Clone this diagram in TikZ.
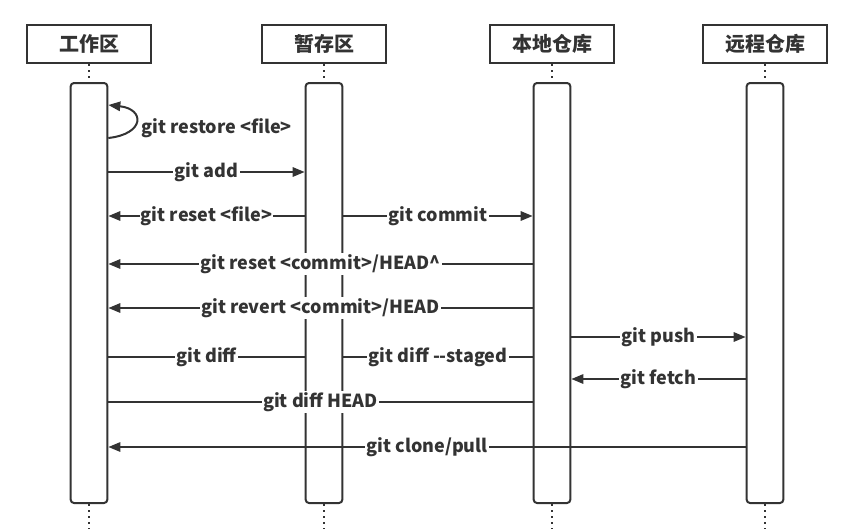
\documentclass[tikz,border=0pt]{standalone}
\usepackage{fontspec}
\setmainfont{Noto Sans CJK SC}
\usetikzlibrary{arrows.meta}
\definecolor{ink}{HTML}{333333}
\tikzset{
    head/.style={draw=ink, line width=1.5pt, minimum width=93pt, minimum height=28.5pt, inner sep=0pt, font=\bfseries\fontsize{15}{17}\selectfont},
    bar/.style={draw=ink, line width=1.5pt, rounded corners=2.5pt, minimum width=27.5pt, minimum height=315pt, inner sep=0pt},
    life/.style={ink, line width=1.5pt, dash pattern=on 1.5pt off 3pt},
    msg/.style={ink, line width=1.5pt},
    tip/.style={-{Triangle[length=9pt, width=7pt]}},
    lbl/.style={fill=white, inner sep=1pt, text=ink}
}
\begin{document}
\begin{tikzpicture}[x=0.75pt, y=-0.75pt, font=\bfseries\fontsize{13.5}{15}\selectfont]
    \useasboundingbox (0,0) rectangle (852,529);
    \foreach \n/\x/\t in {ws/89/工作区, st/324/暂存区, lr/552/本地仓库, rr/765/远程仓库} {
        \node[head, text=ink] (\n) at (\x,44) {\t};
        \node[bar] (\n-bar) at (\x,293) {};
        \draw[life] (\n.south) -- (\n-bar.north);
        \coordinate (\n-end) at (\x,529);
        \draw[life] (\n-bar.south) -- (\n-end);
    }
    \foreach \r/\y in {r0a/105, r0b/138, r1/172, r2/216, r3/264, r4/308, r5/337, r6/357, r7/379, r8/402, r9/447}
        \coordinate (\r) at (0,\y);

    \draw[msg, tip] (ws-bar.east |- r0b) .. controls (145,134) and (145,109) .. (ws-bar.east |- r0a);
    \node[lbl, anchor=west] (restore) at (140,128) {git restore <file>};

    \draw[msg, tip] (ws-bar.east |- r1) -- node[lbl] {git add} (st-bar.west |- r1);
    \draw[msg, tip] (st-bar.west |- r2) -- node[lbl] {git reset <file>} (ws-bar.east |- r2);
    \draw[msg, tip] (st-bar.east |- r2) -- node[lbl] {git commit} (lr-bar.west |- r2);
    \draw[msg, tip] (lr-bar.west |- r3) -- node[lbl] {git reset <commit>/HEAD\^{}} (ws-bar.east |- r3);
    \draw[msg, tip] (lr-bar.west |- r4) -- node[lbl] {git revert <commit>/HEAD} (ws-bar.east |- r4);
    \draw[msg, tip] (lr-bar.east |- r5) -- node[lbl] {git push} (rr-bar.west |- r5);
    \draw[msg] (ws-bar.east |- r6) -- node[lbl] {git diff} (st-bar.west |- r6);
    \draw[msg] (st-bar.east |- r6) -- node[lbl] {git diff -{}-staged} (lr-bar.west |- r6);
    \draw[msg, tip] (rr-bar.west |- r7) -- node[lbl] {git fetch} (lr-bar.east |- r7);
    \draw[msg] (ws-bar.east |- r8) -- node[lbl] {git diff HEAD} (lr-bar.west |- r8);
    \draw[msg, tip] (rr-bar.west |- r9) -- node[lbl] {git clone/pull} (ws-bar.east |- r9);
\end{tikzpicture}
\end{document}
